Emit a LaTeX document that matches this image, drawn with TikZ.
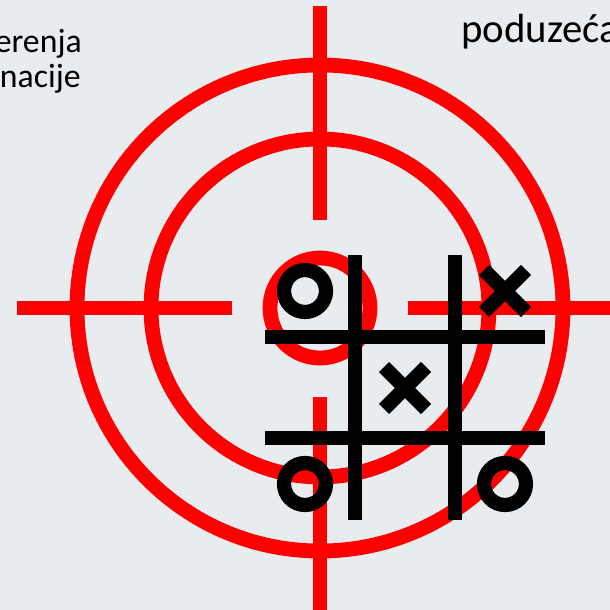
\documentclass[tikz,border=0pt]{standalone}
\usepackage{fontspec}
\setmainfont{Carlito}
\usepackage{xcolor}
\definecolor{pozadina}{RGB}{233, 236, 239}
\definecolor{metaCrvena}{RGB}{255, 0, 0}
\definecolor{znakCrna}{RGB}{0, 0, 0}

\begin{document}
\begin{tikzpicture}[x=0.025cm, y=-0.025cm,
  meta/.style={draw=metaCrvena, line width=0.37cm},
  mreza/.style={draw=znakCrna, line width=0.355cm},
  znak/.style={draw=znakCrna, line width=0.355cm},
  natpis/.style={inner sep=0pt, font=\fontsize{24}{30}\selectfont},
  naslov/.style={inner sep=0pt, font=\fontsize{29}{35}\selectfont}
]
\fill[pozadina] (0,0) rectangle (610,610);
\useasboundingbox (0,0) rectangle (610,610);
\clip (0,0) rectangle (610,610);

% tekst
\node[natpis, anchor=base east] (mjerenja) at (82,53) {erenja};
\node[natpis, anchor=base east] (informacije) at (81,88) {nacije};
\node[naslov, anchor=base west] (poduzeca) at (461,43) {poduzeća};

% meta
\coordinate (sredina) at (320,308);
\draw[meta] (sredina) circle [radius=243];
\draw[meta] (sredina) circle [radius=169];
\draw[meta] (sredina) circle [radius=50];
\draw[meta] (320,6) -- (320,220);
\draw[meta] (320,397) -- (320,615);
\draw[meta] (17,308) -- (232,308);
\draw[meta] (408,308) -- (615,308);

% krizic-kruzic
\draw[mreza] (355,255) -- (355,520);
\draw[mreza] (455,255) -- (455,520);
\draw[mreza] (265,337) -- (545,337);
\draw[mreza] (265,438) -- (545,438);

\draw[znak] (305,291) circle [radius=21];
\draw[znak] (305,484) circle [radius=21];
\draw[znak] (505,484) circle [radius=21];

\foreach \cx/\cy in {505/291, 405/388}
  \draw[znak] (\cx-21,\cy-21) -- (\cx+21,\cy+21)
              (\cx-21,\cy+21) -- (\cx+21,\cy-21);
\end{tikzpicture}
\end{document}
